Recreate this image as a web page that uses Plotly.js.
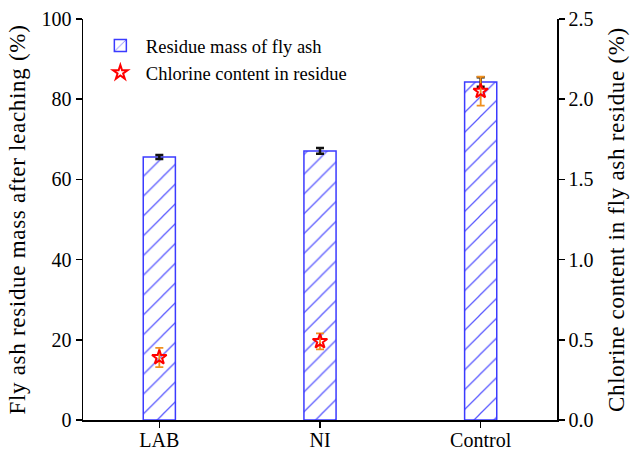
<!DOCTYPE html>
<html>
<head>
<meta charset="utf-8">
<script src="https://cdn.plot.ly/plotly-3.0.1.min.js"></script>
<style>
  html, body { margin: 0; padding: 0; background: #fff; }
  #chart { width: 635px; height: 449px; }
  /* the axis titles are set slightly loose */
  #chart .ytitle, #chart .y2title { letter-spacing: 0.7px; }
</style>
</head>
<body>
<div id="chart"></div>
<script>
// Leaching treatments
const categories = ['LAB', 'NI', 'Control'];

// Residue mass after leaching (%), left axis
const residueMass = [65.6, 67.1, 84.3];
const residueMassErr = [0.5, 0.7, 1.2];

// Chlorine content in residue (%), right axis
const chlorineContent = [0.39, 0.49, 2.05];
const chlorineErr = [0.06, 0.05, 0.09];

const leftTicks = [0, 20, 40, 60, 80, 100];
const rightTicks = [0, 0.5, 1.0, 1.5, 2.0, 2.5];
const rightTickText = ['0.0', '0.5', '1.0', '1.5', '2.0', '2.5'];

const serif = "'Liberation Serif', 'Times New Roman', serif";
const tickFont = { family: serif, size: 20, color: '#000' };
const titleFont = { family: serif, size: 23, color: '#000' };

const bars = {
  type: 'bar',
  name: 'Residue mass of fly ash',
  x: categories,
  y: residueMass,
  width: 0.2,
  marker: {
    color: '#ffffff',
    line: { color: '#3b3bff', width: 1.5 },
    pattern: { shape: '/', fgcolor: '#5a5aff', bgcolor: '#ffffff', size: 14, solidity: 0.09 }
  },
  error_y: { type: 'data', array: residueMassErr, visible: true, color: '#111', thickness: 2.5, width: 4 },
  yaxis: 'y'
};

const stars = {
  type: 'scatter',
  mode: 'markers',
  name: 'Chlorine content in residue',
  x: categories,
  y: chlorineContent,
  yaxis: 'y2',
  marker: { symbol: 'star-open', size: 11, color: '#ff0000', line: { color: '#ff0000', width: 2 } },
  error_y: { type: 'data', array: chlorineErr, visible: true, color: '#f0901e', thickness: 1.8, width: 4 }
};

const layout = {
  width: 635,
  height: 449,
  margin: { l: 83, r: 78, t: 19, b: 29 },
  paper_bgcolor: '#fff',
  plot_bgcolor: '#fff',
  font: tickFont,
  showlegend: true,
  legend: {
    x: 0.025, y: 0.98, xanchor: 'left', yanchor: 'top',
    bgcolor: 'rgba(0,0,0,0)', font: { family: serif, size: 18.5, color: '#000' },
    traceorder: 'normal', tracegroupgap: 2, itemwidth: 41
  },
  xaxis: {
    range: [-0.475, 2.475],
    showline: true, linecolor: '#000', linewidth: 1.5,
    ticks: 'outside', ticklen: 6, tickwidth: 1.5, tickcolor: '#000',
    ticklabelstandoff: -5,
    showgrid: false, zeroline: false,
    tickfont: tickFont
  },
  yaxis: {
    range: [0, 100],
    tickvals: leftTicks,
    showline: true, linecolor: '#000', linewidth: 1.5,
    ticks: 'outside', ticklen: 6, tickwidth: 1.5, tickcolor: '#000',
    showgrid: false, zeroline: false,
    tickfont: tickFont,
    title: { text: 'Fly ash residue mass after leaching (%)', font: titleFont, standoff: 9 }
  },
  yaxis2: {
    range: [0, 2.5],
    overlaying: 'y', side: 'right',
    tickvals: rightTicks, ticktext: rightTickText,
    showline: true, linecolor: '#000', linewidth: 1.5,
    ticks: 'outside', ticklen: 6, tickwidth: 1.5, tickcolor: '#000',
    showgrid: false, zeroline: false,
    tickfont: tickFont,
    title: { text: 'Chlorine content in fly ash residue (%)', font: titleFont, standoff: 15 }
  },
  bargap: 0
};

Plotly.newPlot('chart', [bars, stars], layout, { displayModeBar: false, staticPlot: true });
</script>
</body>
</html>
